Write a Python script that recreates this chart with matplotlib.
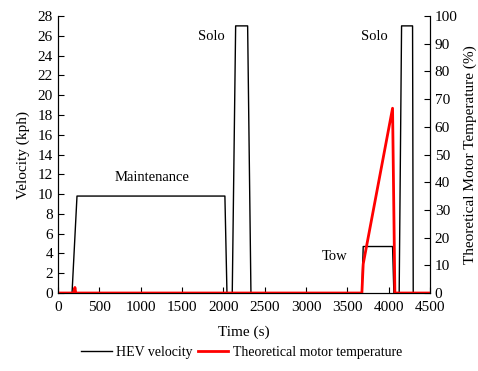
import matplotlib
matplotlib.use("Agg")
import matplotlib.pyplot as plt

plt.rcParams["font.family"] = ["Liberation Serif", "DejaVu Serif"]
plt.rcParams["font.size"] = 10

# HEV velocity trace (s, kph)
vel_time = [0, 170, 230, 2019, 2044, 2108, 2149, 2294, 2334, 3676, 3692,
            4047, 4063, 4127, 4156, 4289, 4297, 4500]
vel_kph = [0, 0, 9.8, 9.8, 0, 0, 27, 27, 0, 0, 4.7,
           4.7, 0, 0, 27, 27, 0, 0]

# theoretical motor temperature (s, %)
temp_time = [0, 190, 205, 215, 3676, 3692, 4047, 4075, 4500]
temp_pct = [0, 0, 2, 0, 0, 10.5, 66.7, 0, 0]

phase_labels = ["Maintenance", "Solo", "Tow", "Solo"]
phase_x = [1140, 1860, 3350, 3830]
phase_y = [11.7, 25.9, 3.7, 25.9]

x_ticks = list(range(0, 4501, 500))
v_ticks = list(range(0, 29, 2))
t_ticks = list(range(0, 101, 10))

fig = plt.figure(figsize=(4.78, 3.71), dpi=100)
ax = fig.add_axes([0.1213, 0.2102, 0.7783, 0.7467])
ax.plot(vel_time, vel_kph, color="black", lw=1, label="HEV velocity")
ax.set_xlim(0, 4500)
ax.set_ylim(0, 28)
ax.set_xticks(x_ticks)
ax.set_yticks(v_ticks)
ax.set_xlabel("Time (s)", fontsize=11, labelpad=8)
ax.set_ylabel("Velocity (kph)", fontsize=11, labelpad=6)
ax.tick_params(direction="in", length=4, labelsize=11)
ax.tick_params(axis="x", pad=6)
ax.spines["top"].set_visible(False)

for lab, x, y in zip(phase_labels, phase_x, phase_y):
    ax.text(x, y, lab, ha="center", va="center", fontsize=10.5)

ax2 = ax.twinx()
ax2.plot(temp_time, temp_pct, color="red", lw=2, label="Theoretical motor temperature")
ax2.set_ylim(0, 100)
ax2.set_yticks(t_ticks)
ax2.set_ylabel("Theoretical Motor Temperature (%)", fontsize=11)
ax2.tick_params(direction="in", length=4, labelsize=11)
ax2.spines["top"].set_visible(False)

h1, l1 = ax.get_legend_handles_labels()
h2, l2 = ax2.get_legend_handles_labels()
fig.legend(h1 + h2, l1 + l2, loc="center", bbox_to_anchor=(0.505, 0.05),
           ncol=2, frameon=False, handlelength=2.2, columnspacing=0.4,
           handletextpad=0.3)

fig.savefig("out.png", dpi=100)
